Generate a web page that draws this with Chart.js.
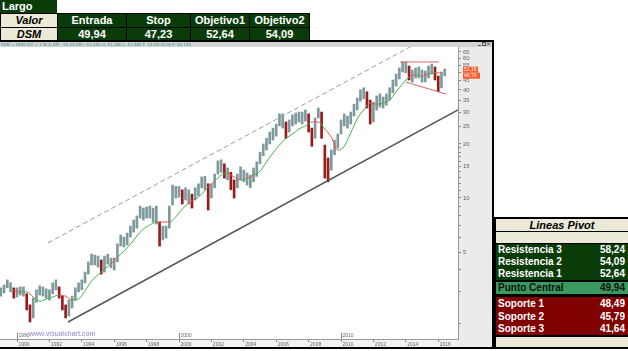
<!DOCTYPE html>
<html>
<head>
<meta charset="utf-8">
<title>DSM</title>
<script src="https://cdn.jsdelivr.net/npm/chart.js@4.4.1/dist/chart.umd.min.js"></script>
<style>
  body { margin: 0; width: 628px; height: 351px; position: relative; overflow: hidden; background: #fff;
         font-family: "Liberation Sans", Arial, sans-serif; }
  .cell { position: absolute; box-sizing: border-box; font-size: 11px; font-weight: bold; color: #fff;
          text-align: center; white-space: nowrap; overflow: hidden; }
  #wrap { position: absolute; left: 0; top: 42px; width: 492px; height: 305px; }
</style>
</head>
<body>
<div id="wrap"><canvas id="chart" width="492" height="305"></canvas></div>
<script>
// tabla de la operacion
const ticker = 'DSM';
const tradeHeads = ['Entrada', 'Stop', 'Objetivo1', 'Objetivo2'];
const tradeVals = [49.94, 47.23, 52.64, 54.09];

// lineas pivot
const pivotNames = ['Resistencia 3', 'Resistencia 2', 'Resistencia 1', 'Punto Central', 'Soporte 1', 'Soporte 2', 'Soporte 3'];
const pivotVals = [58.24, 54.09, 52.64, 49.94, 48.49, 45.79, 41.64];

// precios (maximo / minimo por tramo de ~2,4 meses)
const dates = [
  1989.0, 1989.2, 1989.4, 1989.6, 1989.8, 1990.0, 1990.2, 1990.4, 1990.6, 1990.8,
  1991.0, 1991.2, 1991.4, 1991.6, 1991.8, 1992.0, 1992.2, 1992.4, 1992.6, 1992.8,
  1993.0, 1993.2, 1993.4, 1993.6, 1993.8, 1994.0, 1994.2, 1994.4, 1994.6, 1994.8,
  1995.0, 1995.2, 1995.4, 1995.6, 1995.8, 1996.0, 1996.2, 1996.4, 1996.6, 1996.8,
  1997.0, 1997.2, 1997.4, 1997.6, 1997.8, 1998.0, 1998.2, 1998.4, 1998.6, 1998.8,
  1999.0, 1999.2, 1999.4, 1999.6, 1999.8, 2000.0, 2000.2, 2000.4, 2000.6, 2000.8,
  2001.0, 2001.2, 2001.4, 2001.6, 2001.8, 2002.0, 2002.2, 2002.4, 2002.6, 2002.8,
  2003.0, 2003.2, 2003.4, 2003.6, 2003.8, 2004.0, 2004.2, 2004.4, 2004.6, 2004.8,
  2005.0, 2005.2, 2005.4, 2005.6, 2005.8, 2006.0, 2006.2, 2006.4, 2006.6, 2006.8,
  2007.0, 2007.2, 2007.4, 2007.6, 2007.8, 2008.0, 2008.2, 2008.4, 2008.6, 2008.8,
  2009.0, 2009.2, 2009.4, 2009.6, 2009.8, 2010.0, 2010.2, 2010.4, 2010.6, 2010.8,
  2011.0, 2011.2, 2011.4, 2011.6, 2011.8, 2012.0, 2012.2, 2012.4, 2012.6, 2012.8,
  2013.0, 2013.2, 2013.4, 2013.6, 2013.8, 2014.0, 2014.2, 2014.4, 2014.6, 2014.8,
  2015.0, 2015.2, 2015.4, 2015.6, 2015.8, 2016.0, 2016.2, 2016.4
];
const highs = [
  3.16, 3.28, 3.50, 3.37, 3.16, 3.16, 3.20, 3.20, 2.93, 2.54,
  2.77, 3.08, 3.24, 3.20, 3.12, 3.08, 3.37, 3.50, 3.20, 2.84,
  2.54, 2.70, 2.84, 3.16, 3.37, 3.50, 3.87, 4.41, 4.87, 4.81,
  4.75, 4.52, 4.75, 4.87, 4.63, 4.63, 5.55, 6.22, 6.06, 6.38,
  6.98, 7.54, 7.94, 9.02, 8.79, 8.91, 9.02, 8.79, 9.02, 7.35,
  6.98, 6.98, 9.02, 11.8, 11.6, 11.6, 11.1, 11.4, 11.1, 10.5,
  11.4, 12.0, 13.1, 13.2, 12.0, 12.0, 13.6, 16.1, 16.3, 15.5,
  14.7, 13.9, 12.6, 13.6, 14.9, 14.3, 13.8, 13.4, 14.7, 15.9,
  18.0, 20.0, 21.5, 23.3, 24.5, 25.8, 29.4, 29.4, 26.5, 27.2,
  29.0, 29.7, 30.1, 30.1, 30.9, 29.4, 24.5, 27.9, 31.7, 30.1,
  19.7, 16.7, 18.5, 21.0, 22.7, 27.2, 29.4, 28.6, 30.1, 33.3,
  36.0, 40.0, 41.1, 39.0, 35.1, 34.2, 37.0, 38.0, 36.5, 38.0,
  41.1, 45.4, 49.0, 53.0, 57.2, 57.2, 54.3, 51.6, 53.0, 53.7,
  51.6, 50.9, 54.3, 55.7, 53.7, 47.8, 50.3, 52.3
];
const lows = [
  2.84, 2.96, 3.16, 3.00, 2.77, 2.81, 2.88, 2.84, 2.38, 2.04,
  2.15, 2.63, 2.88, 2.84, 2.77, 2.70, 2.93, 3.08, 2.77, 2.38,
  2.15, 2.20, 2.44, 2.70, 3.00, 3.08, 3.37, 3.77, 4.24, 4.24,
  4.13, 3.77, 3.87, 4.29, 4.08, 3.97, 4.41, 5.40, 5.33, 5.47,
  6.06, 6.46, 6.80, 7.73, 7.54, 7.73, 7.73, 7.35, 7.16, 5.40,
  5.84, 5.98, 6.80, 9.14, 10.0, 10.1, 9.26, 9.75, 9.26, 8.79,
  9.75, 10.3, 11.4, 11.1, 8.57, 10.0, 11.4, 13.6, 13.9, 12.9,
  12.6, 11.1, 10.0, 11.4, 12.6, 12.3, 11.8, 11.4, 12.3, 13.2,
  15.5, 17.2, 18.5, 20.0, 21.0, 22.1, 25.2, 24.5, 21.5, 23.3,
  25.2, 25.8, 26.5, 25.8, 26.8, 23.3, 19.4, 21.5, 27.9, 21.5,
  12.9, 12.3, 14.3, 17.4, 19.0, 22.7, 25.2, 24.5, 25.8, 28.6,
  30.9, 34.6, 35.6, 31.7, 25.8, 26.5, 30.9, 32.1, 31.7, 32.9,
  35.1, 38.5, 42.0, 46.0, 50.3, 49.7, 45.4, 44.2, 46.6, 46.6,
  44.2, 44.2, 46.6, 49.0, 45.4, 39.0, 41.1, 47.8
];
const lastClose = 51.16;

// media movil
const maDates = [
  1989.8, 1990.2, 1990.6, 1991.0, 1991.4, 1991.8, 1992.2, 1992.6, 1993.0, 1993.4,
  1993.8, 1994.2, 1994.6, 1995.0, 1995.4, 1995.8, 1996.2, 1996.6, 1997.0, 1997.4,
  1997.8, 1998.2, 1998.6, 1999.0, 1999.4, 1999.8, 2000.2, 2000.6, 2001.0, 2001.4,
  2001.8, 2002.2, 2002.6, 2003.0, 2003.4, 2003.8, 2004.2, 2004.6, 2005.0, 2005.4,
  2005.8, 2006.2, 2006.6, 2007.0, 2007.4, 2007.8, 2008.2, 2008.6, 2009.0, 2009.4,
  2009.8, 2010.2, 2010.6, 2011.0, 2011.4, 2011.8, 2012.2, 2012.6, 2013.0, 2013.4,
  2013.8, 2014.2, 2014.6, 2015.0, 2015.4, 2015.8, 2016.2
];
const maVals = [
  3.04, 3.00, 3.00, 2.81, 2.66, 2.74, 2.81, 2.88, 2.84, 2.70,
  2.74, 3.04, 3.45, 3.73, 4.02, 4.30, 4.69, 5.06, 5.54, 6.14,
  6.72, 7.07, 7.35, 7.35, 7.35, 7.84, 8.68, 9.37, 9.87, 10.5,
  11.5, 12.4, 13.4, 13.7, 13.1, 12.6, 12.9, 13.4, 14.1, 15.9,
  17.8, 19.7, 21.5, 22.7, 24.2, 25.2, 26.5, 26.5, 24.2, 21.8,
  18.5, 19.4, 23.0, 27.6, 30.9, 33.7, 33.3, 33.7, 35.1, 39.0,
  43.2, 47.2, 48.4, 47.8, 49.0, 49.7, 49.7
];

// lineas de tendencia [fecha, precio]
const chanUp = [[1991.91, 5.62], [2014.26, 69.3]];
const chanDown = [[1993.15, 2.04], [2017.22, 30.9]];
const boxTop = [[2013.64, 57.2], [2016.05, 57.2]];
const boxBottom = [[2014.01, 44.2], [2016.48, 37.9]];

const yearTicks = [1990, 1992, 1994, 1996, 1998, 2000, 2002, 2004, 2006, 2008, 2010, 2012, 2014, 2016];
const decades = [1990, 2000, 2010];
const priceTicks = [2, 3, 4, 5, 6, 7, 8, 9, 10, 11, 12, 13, 14, 15, 16, 17, 18, 19, 20, 25, 30, 35, 40, 45, 50, 55, 60, 65];

const GREEN = '#0a3c0a', BEIGE = '#ece9d8', MID = '#3a9a5e', RED = '#800000';
const fmt = v => v.toFixed(2).replace('.', ',');

function box(x, y, w, h, bg, txt, st) {
  const d = document.createElement('div');
  d.className = 'cell';
  d.style.left = x + 'px';
  d.style.top = y + 'px';
  d.style.width = w + 'px';
  d.style.height = h + 'px';
  d.style.lineHeight = h + 'px';
  d.style.background = bg;
  if (txt != null) d.textContent = txt;
  if (st) Object.assign(d.style, st);
  document.body.appendChild(d);
  return d;
}

// tabla superior
box(0, 0, 57, 13, GREEN, 'Largo', { textAlign: 'left', paddingLeft: '2px' });
box(0, 13, 310, 29, '#000');
const colX = [1, 58, 127, 191, 250], colW = [56, 68, 63, 58, 59];
box(colX[0], 14, colW[0], 13, BEIGE, 'Valor', { color: '#000', fontStyle: 'italic' });
box(colX[0], 28, colW[0], 12, BEIGE, ticker, { color: '#000', fontStyle: 'italic' });
tradeHeads.forEach((t, i) => {
  box(colX[i + 1], 14, colW[i + 1], 13, GREEN, t);
  box(colX[i + 1], 28, colW[i + 1], 12, GREEN, fmt(tradeVals[i]));
});

// tabla pivot
box(494, 217, 134, 132, '#000');
box(496, 219, 132, 12, BEIGE, 'Lineas Pivot', { color: '#000', fontStyle: 'italic' });
box(496, 232, 132, 11, BEIGE);
const rowY = [244, 256, 268, 282, 297, 310, 322];
pivotNames.forEach((n, i) => {
  const bg = i < 3 ? GREEN : (i === 3 ? MID : RED);
  const col = i === 3 ? '#111' : '#fff';
  const h = i > 3 ? 13 : 12;
  box(496, rowY[i], 132, h, bg, n, { textAlign: 'left', paddingLeft: '2px', color: col, fontSize: '10px' });
  box(496, rowY[i], 132, h, 'transparent', fmt(pivotVals[i]), { textAlign: 'right', paddingRight: '3px', color: col, fontSize: '10px' });
});
box(496, 337, 132, 10, BEIGE);

// marco de la ventana del grafico
box(0, 40, 494, 2, '#000');
box(492, 40, 2, 309, '#000');
box(0, 347, 494, 2, '#000');

const mids = highs.map((h, i) => Math.sqrt(h * lows[i]));
const barColors = mids.map((m, i) => (i > 0 && m < mids[i - 1] * 0.95) ? '#961c1c' : '#7f9a9c');

function maColor(c) {
  const i0 = c.p0DataIndex, i1 = c.p1DataIndex;
  const tm = (maDates[i0] + maDates[i1]) / 2;
  let j = 0;
  dates.forEach((d, k) => { if (Math.abs(d - tm) < Math.abs(dates[j] - tm)) j = k; });
  return mids[j] >= Math.sqrt(maVals[i0] * maVals[i1]) ? '#3cb44b' : '#ff4a4a';
}

const pts = arr => arr.map(p => ({ x: p[0], y: p[1] }));

const decor = {
  id: 'decor',
  beforeDraw(chart) {
    const { ctx, chartArea: a, width, height } = chart;
    ctx.save();
    ctx.fillStyle = '#d4d4d4';
    ctx.fillRect(0, 0, width, a.top);
    ctx.fillStyle = '#ebebeb';
    ctx.fillRect(a.right, a.top, width - a.right, height - a.top);
    ctx.fillStyle = '#f2f2f2';
    ctx.fillRect(0, a.bottom, a.right, height - a.bottom);
    ctx.restore();
  },
  afterDraw(chart) {
    const { ctx, chartArea: a } = chart;
    const xs = chart.scales.x, ys = chart.scales.y;
    ctx.save();
    // cabecera
    ctx.font = '4px "DejaVu Sans"';
    ctx.textBaseline = 'middle';
    ctx.fillStyle = '#3f9090';
    ctx.fillText('DSM = DSM IDX = 1 W & DIF.: +0,25 DIF.: +0,190 H: 51,380 L: 51,880 F: 15-04-2016 P: 50,145', 1, 2.5);
    ctx.fillStyle = '#555';
    ctx.fillRect(478, 3, 3, 1);
    ctx.strokeStyle = '#555';
    ctx.lineWidth = 1;
    ctx.strokeRect(482.5, 0.5, 3, 3);
    ctx.beginPath();
    ctx.moveTo(487, 0.5); ctx.lineTo(490, 3.5); ctx.moveTo(490, 0.5); ctx.lineTo(487, 3.5);
    ctx.stroke();
    // decadas
    ctx.font = '5px "Liberation Sans"';
    ctx.fillStyle = '#666';
    ctx.strokeStyle = '#888';
    decades.forEach(d => {
      const x = Math.round(xs.getPixelForValue(d)) + 0.5;
      ctx.beginPath();
      ctx.moveTo(x, a.bottom - 6);
      ctx.lineTo(x, a.bottom);
      ctx.stroke();
      ctx.fillText(String(d), x + 1, a.bottom - 3);
    });
    // marca de agua
    ctx.font = 'bold 6.5px "Liberation Sans"';
    ctx.fillStyle = '#a6a6dc';
    ctx.fillText('www.visualchart.com', 29, a.bottom - 5);
    // etiquetas de precio
    const y0 = ys.getPixelForValue(lastClose);
    ctx.font = '5px "Liberation Sans"';
    ctx.fillStyle = '#ff5a28';
    ctx.fillRect(a.right + 5, y0 - 4, 15, 6);
    ctx.fillRect(a.right + 5, y0 + 2, 17, 6);
    ctx.fillStyle = '#fff';
    ctx.fillText(fmt(lastClose), a.right + 6, y0 - 1);
    ctx.fillText(fmt(maVals[maVals.length - 1]), a.right + 6, y0 + 5);
    ctx.restore();
  }
};

new Chart(document.getElementById('chart'), {
  type: 'bar',
  data: {
    datasets: [
      {
        type: 'bar',
        data: dates.map((d, i) => ({ x: d, y: [lows[i], highs[i]] })),
        backgroundColor: barColors,
        barThickness: 2,
        order: 5
      },
      {
        type: 'line',
        data: maDates.map((d, i) => ({ x: d, y: maVals[i] })),
        borderWidth: 1,
        pointRadius: 0,
        cubicInterpolationMode: 'monotone',
        borderColor: '#3cb44b',
        segment: { borderColor: maColor },
        order: 2
      },
      { type: 'line', data: pts(chanUp), borderColor: '#9a9a9a', borderWidth: 1, borderDash: [5, 3], pointRadius: 0, order: 1 },
      { type: 'line', data: pts(chanDown), borderColor: '#555', borderWidth: 1.5, pointRadius: 0, order: 1 },
      { type: 'line', data: pts(boxTop), borderColor: '#e06060', borderWidth: 1, pointRadius: 0, order: 1 },
      { type: 'line', data: pts(boxBottom), borderColor: '#e06060', borderWidth: 1, pointRadius: 0, order: 1 }
    ]
  },
  options: {
    responsive: false,
    animation: false,
    layout: { padding: { top: 5, left: 0, right: 0, bottom: 0 } },
    plugins: { legend: { display: false }, tooltip: { enabled: false } },
    scales: {
      x: {
        type: 'linear',
        min: 1988.95,
        max: 2017.22,
        offset: false,
        afterBuildTicks: s => { s.ticks = yearTicks.map(v => ({ value: v })); },
        ticks: { font: { size: 5, family: 'Liberation Sans' }, color: '#666', labelOffset: 7, padding: 0,
                 maxRotation: 0, autoSkip: false, callback: v => String(v) },
        grid: { drawOnChartArea: false, offset: false, tickColor: '#888', tickLength: 3 },
        border: { color: '#999' },
        afterFit: s => { s.height = 8; s.paddingLeft = 0; s.paddingRight = 0; }
      },
      y: {
        type: 'logarithmic',
        position: 'right',
        min: 1.64,
        max: 69.3,
        bounds: 'data',
        afterBuildTicks: s => { s.ticks = priceTicks.map(v => ({ value: v })); },
        ticks: { font: { size: 6, family: 'Liberation Sans' }, color: '#666', padding: 2, autoSkip: false,
                 callback: v => (v % 5 === 0 ? String(v) : '') },
        grid: { drawOnChartArea: false, tickColor: '#888', tickLength: 3 },
        border: { color: '#999' },
        afterFit: s => { s.width = 34; s.paddingTop = 0; s.paddingBottom = 0; }
      }
    }
  },
  plugins: [decor]
});
</script>
</body>
</html>
